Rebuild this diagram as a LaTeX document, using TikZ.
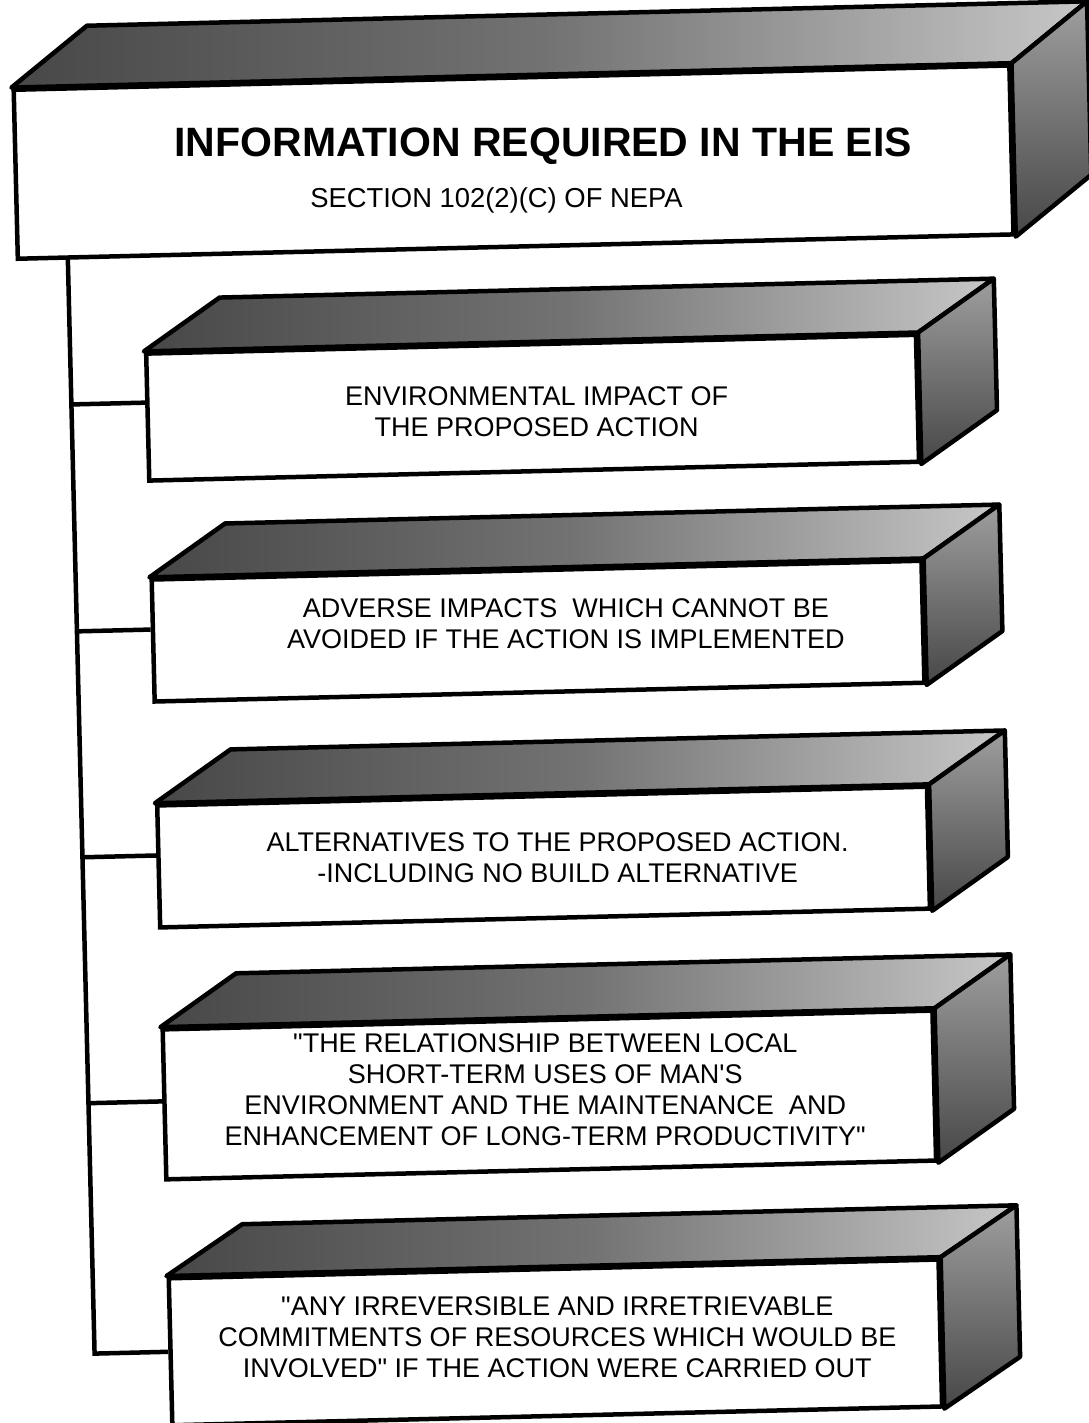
\documentclass[tikz,border=0pt]{standalone}
\usepackage{fontspec}
\setmainfont{Liberation Sans}
\tikzset{
  face/.style={draw, line width=4.5pt, fill=white, inner sep=0pt, transform shape},
  topface/.style={draw, line width=4.5pt, line join=round, left color=black!72, right color=black!22, middle color=black!55},
  sideface/.style={draw, line width=4.5pt, line join=round, top color=black!38, bottom color=black!72},
  link/.style={line width=4.5pt},
  boxtext/.style={font=\fontsize{27}{31}\selectfont, align=center},
}
\begin{document}
\begin{tikzpicture}[x=1pt,y=-1pt]
  \fill[white] (0,0) rectangle (1088,1423);
  \useasboundingbox (0,0) rectangle (1088,1423);
  \begin{scope}[rotate around={1.4:(544,711)}]
  \node[face, minimum width=996pt, minimum height=169pt] (title) at (527,161.5) {};
  \node[face, minimum width=770pt, minimum height=127pt] (b1) at (540,407.5) {};
  \node[face, minimum width=770pt, minimum height=122pt] (b2) at (540,631) {};
  \node[face, minimum width=770pt, minimum height=122pt] (b3) at (540,857) {};
  \node[face, minimum width=770pt, minimum height=150pt] (b4) at (540,1095) {};
  \node[face, minimum width=770pt, minimum height=147pt] (b5) at (540,1342.5) {};
  \foreach \b/\dy in {title/-60,b1/-52,b2/-52,b3/-52,b4/-52,b5/-50} {
    \filldraw[topface] (\b.north west) -- ([shift={(77,\dy)}]\b.north west) -- ([shift={(77,\dy)}]\b.north east) -- (\b.north east) -- cycle;
    \filldraw[sideface] (\b.north east) -- ([shift={(77,\dy)}]\b.north east) -- ([shift={(77,\dy)}]\b.south east) -- (\b.south east) -- cycle;
  }
  \node[font=\bfseries\fontsize{41}{41}\selectfont] (ttl) at (557,146) {INFORMATION REQUIRED IN THE EIS};
  \node[font=\fontsize{27.4}{27.4}\selectfont] (sub) at (509,199) {SECTION 102(2)(C) OF NEPA};
  \node[boxtext] (t1) at (544,412) {ENVIRONMENTAL IMPACT OF\\THE PROPOSED ACTION};
  \node[boxtext] (t2) at (568,624) {ADVERSE IMPACTS~ WHICH CANNOT BE\\AVOIDED IF THE ACTION IS IMPLEMENTED};
  \node[boxtext] (t3) at (554,858) {ALTERNATIVES TO THE PROPOSED ACTION.\\-INCLUDING NO BUILD ALTERNATIVE};
  \node[boxtext] (t4) at (536,1090) {\textquotedbl THE RELATIONSHIP BETWEEN LOCAL\\SHORT-TERM USES OF MAN\textquotesingle S\\ENVIRONMENT AND THE MAINTENANCE~ AND\\ENHANCEMENT OF LONG-TERM PRODUCTIVITY\textquotedbl};
  \node[boxtext] (t5) at (542,1337) {\textquotedbl ANY IRREVERSIBLE AND IRRETRIEVABLE\\COMMITMENTS OF RESOURCES WHICH WOULD BE\\INVOLVED\textquotedbl{} IF THE ACTION WERE CARRIED OUT};
  \coordinate (top) at (79,246);
  \coordinate (j1) at (79,393);
  \coordinate (j2) at (79,620);
  \coordinate (j3) at (79,846);
  \coordinate (j4) at (79,1092);
  \draw[link] (top) |- (b5.west);
  \draw[link] (j1) -- (j1 -| b1.west);
  \draw[link] (j2) -- (j2 -| b2.west);
  \draw[link] (j3) -- (j3 -| b3.west);
  \draw[link] (j4) -- (j4 -| b4.west);
  \end{scope}
\end{tikzpicture}
\end{document}
